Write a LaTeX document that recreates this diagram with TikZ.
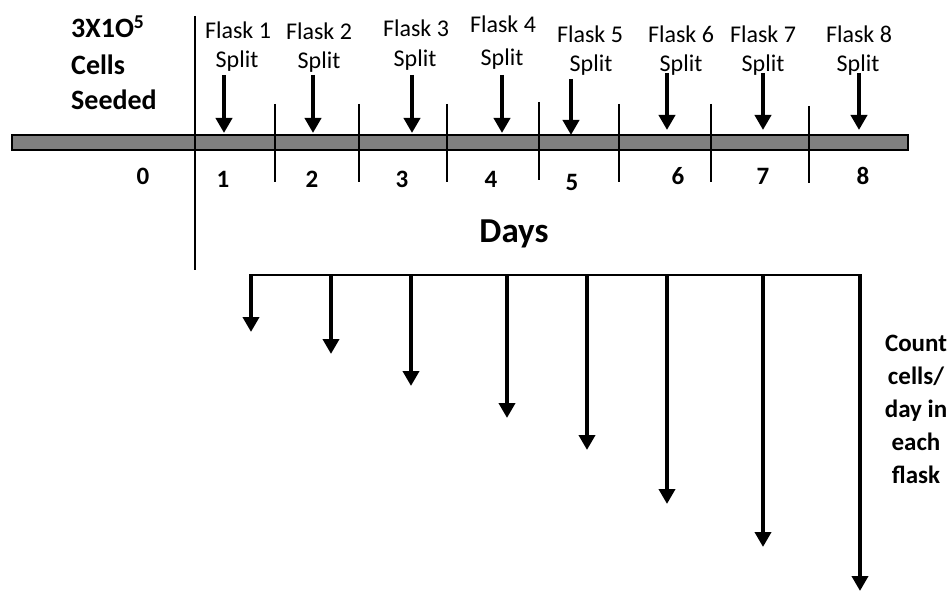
\documentclass[tikz,border=0pt]{standalone}
\usepackage{fontspec}
\setmainfont{Carlito}
\usetikzlibrary{arrows.meta}
\definecolor{bargray}{RGB}{128,128,128}
\begin{document}
\begin{tikzpicture}[x=1pt,y=-1pt,
  flasklbl/.style={font=\fontsize{24}{24}\selectfont, anchor=base, inner sep=0pt},
  daylbl/.style={font=\bfseries\fontsize{25}{25}\selectfont, anchor=base, inner sep=0pt},
  seedlbl/.style={font=\bfseries\fontsize{28}{28}\selectfont, anchor=base west, inner sep=0pt},
  countlbl/.style={font=\bfseries\fontsize{25}{25}\selectfont, anchor=base, inner sep=0pt},
  downarrow/.style={line width=4pt, -{Triangle[width=16pt,length=15pt]}},
  tickline/.style={line width=1.6pt}]
\useasboundingbox (0,0) rectangle (951,591);

% time bar
\draw[fill=bargray, line width=1.6pt] (12,135) rectangle (908,150);

% divider after day 0 and day ticks
\coordinate (dv1) at (195,16);  \coordinate (dv2) at (195,270);
\draw[tickline] (dv1) -- (dv2);
\foreach \x/\t/\b [count=\i] in {275/104/182, 359/104/182, 447/104/182, 539/102/180, 619/104/182, 711/104/182, 809/106/183}{
  \coordinate (tt\i) at (\x,\t); \coordinate (tb\i) at (\x,\b);
  \draw[tickline] (tt\i) -- (tb\i);
}

% seeding label
\node[seedlbl] (seed1) at (71,38) {3X1O\textsuperscript{5}};
\node[seedlbl] (seed2) at (71,75) {Cells};
\node[seedlbl] (seed3) at (71,110) {Seeded};

% flask labels
\foreach \x/\fy/\sx/\sy [count=\i] in {238/39/237/68, 319/40/319/69, 416/37/415/67, 503/33/502/66,
                                      590/43/591/72, 681/43/681/72, 763/43/763/72, 859/43/858/72}{
  \node[flasklbl] (fl\i) at (\x,\fy) {Flask \i};
  \node[flasklbl] (sp\i) at (\sx,\sy) {Split};
}

% split arrows onto the bar
\foreach \x/\t/\b [count=\i] in {224/75/133, 313/75/133, 412/75/133, 502/75/133,
                                571/79/135, 667/73/130, 763/73/130, 859/73/130}{
  \coordinate (sa\i) at (\x,\t); \coordinate (sb\i) at (\x,\b);
  \draw[downarrow] (sa\i) -- (sb\i);
}

% day numbers
\foreach \d/\x/\y in {0/143/185, 1/223/188, 2/312/188, 3/402/188, 4/491/188,
                      5/572/190, 6/678/185, 7/763/185, 8/863/185}{
  \node[daylbl] (day\d) at (\x,\y) {\d};
}
\node[font=\bfseries\fontsize{35}{35}\selectfont, anchor=base, inner sep=0pt] (days) at (514,242) {Days};

% daily counting arrows
\coordinate (h1) at (251,275); \coordinate (h8) at (860,275);
\draw[line width=2pt] (h1) -- (h8);
\foreach \x/\b [count=\i] in {251/332, 331/354, 411/386, 507/418, 587/450, 667/504, 763/547, 860/591}{
  \coordinate (ct\i) at (\x,274); \coordinate (cb\i) at (\x,\b);
  \draw[downarrow] (ct\i) -- (cb\i);
}

% count note
\node[countlbl] (cn1) at (916,351) {Count};
\node[countlbl] (cn2) at (916,384) {cells/};
\node[countlbl] (cn3) at (916,417) {day in};
\node[countlbl] (cn4) at (916,450) {each};
\node[countlbl] (cn5) at (916,483) {flask};
\end{tikzpicture}
\end{document}
